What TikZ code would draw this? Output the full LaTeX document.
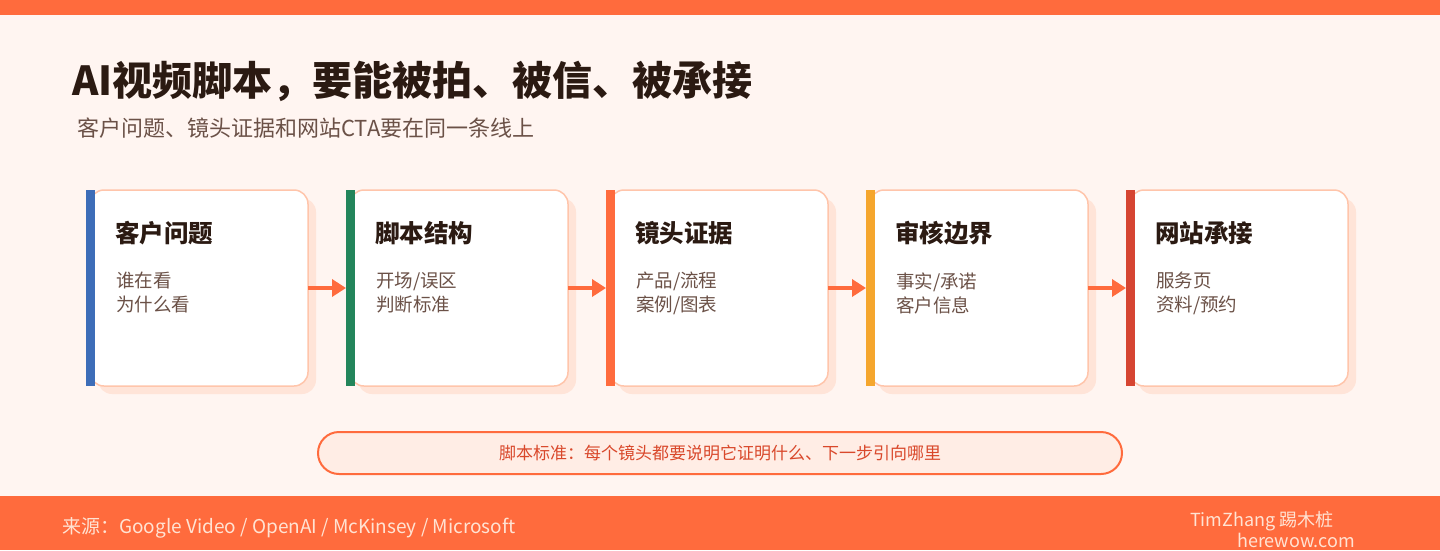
\documentclass[tikz,border=0pt]{standalone}
\usepackage{fontspec}
\setmainfont{Noto Sans CJK SC}
\usetikzlibrary{positioning, arrows.meta, shadows}

\definecolor{pagebg}{HTML}{FFF5F1}
\definecolor{brand}{HTML}{FF6B3D}
\definecolor{inkdark}{HTML}{2B1A12}
\definecolor{inksoft}{HTML}{6B5147}
\definecolor{cardline}{HTML}{FFC5AB}
\definecolor{cardshade}{HTML}{FFE4D8}
\definecolor{accblue}{HTML}{3D6DB8}
\definecolor{accgreen}{HTML}{23855B}
\definecolor{accorange}{HTML}{FF6B3D}
\definecolor{accyellow}{HTML}{F5A62D}
\definecolor{accred}{HTML}{D64532}
\definecolor{notefill}{HTML}{FFEDE5}
\definecolor{notetext}{HTML}{D9482B}
\definecolor{foottext}{HTML}{FFE3D3}

\begin{document}
\begin{tikzpicture}[
    x=1pt, y=-1pt,
    % Block styles
    card/.style={
      rectangle, rounded corners=14pt, draw=cardline, line width=1.5pt,
      fill=white, minimum width=218pt, minimum height=196pt,
      inner sep=0pt, outer sep=0pt,
      drop shadow={shadow xshift=8pt, shadow yshift=-8pt, fill=cardshade, opacity=1}
    },
    cardtitle/.style={
      anchor=west, inner sep=0pt, text=inkdark,
      font=\fontsize{24.5}{28}\selectfont\bfseries
    },
    cardbody/.style={
      inner sep=0pt, text=inksoft, align=left,
      font=\fontsize{18.5}{24}\selectfont
    },
    flow/.style={draw=brand, line width=4pt, -{Triangle[length=14pt, width=17pt]}},
    callout/.style={
      rectangle, rounded corners=21pt, draw=brand, line width=2pt,
      fill=notefill, minimum width=804pt, minimum height=42pt,
      text=notetext, font=\fontsize{17}{20}\selectfont
    },
    foot/.style={inner sep=0pt, text=foottext, font=\fontsize{18}{22}\selectfont},
  ]

  \useasboundingbox (0,0) rectangle (1440,550);

  % === Page frame ===
  \fill[pagebg] (0,0) rectangle (1440,550);
  \fill[brand] (0,0) rectangle (1440,15);
  \fill[brand] (0,496) rectangle (1440,550);

  % === Heading ===
  \node[anchor=west, inner sep=0pt, text=inkdark, font=\fontsize{40}{46}\selectfont\bfseries] (title) at (72,81) {AI视频脚本，要能被拍、被信、被承接};
  \node[anchor=west, inner sep=0pt, text=inksoft, font=\fontsize{22}{26}\selectfont] (subtitle) at (77,128) {客户问题、镜头证据和网站CTA要在同一条线上};

  % === Cards (anchor element) ===
  \node[card] (c1) at (199,288) {};
  \node[card, right=42pt of c1] (c2) {};
  \node[card, right=42pt of c2] (c3) {};
  \node[card, right=42pt of c3] (c4) {};
  \node[card, right=42pt of c4] (c5) {};

  % Accent bars
  \fill[accblue] ([xshift=-4pt]c1.north west) rectangle ([xshift=5pt]c1.south west);
  \fill[accgreen] ([xshift=-4pt]c2.north west) rectangle ([xshift=5pt]c2.south west);
  \fill[accorange] ([xshift=-4pt]c3.north west) rectangle ([xshift=5pt]c3.south west);
  \fill[accyellow] ([xshift=-4pt]c4.north west) rectangle ([xshift=5pt]c4.south west);
  \fill[accred] ([xshift=-4pt]c5.north west) rectangle ([xshift=5pt]c5.south west);

  % Card texts
  \node[cardtitle] (t1) at ([xshift=25pt, yshift=-43pt]c1.north west) {客户问题};
  \node[cardbody, below right=27pt and 1pt of t1.south west] (b1) {谁在看\\为什么看};

  \node[cardtitle] (t2) at ([xshift=25pt, yshift=-43pt]c2.north west) {脚本结构};
  \node[cardbody, below right=27pt and 1pt of t2.south west] (b2) {开场/误区\\判断标准};

  \node[cardtitle] (t3) at ([xshift=25pt, yshift=-43pt]c3.north west) {镜头证据};
  \node[cardbody, below right=27pt and 1pt of t3.south west] (b3) {产品/流程\\案例/图表};

  \node[cardtitle] (t4) at ([xshift=25pt, yshift=-43pt]c4.north west) {审核边界};
  \node[cardbody, below right=27pt and 1pt of t4.south west] (b4) {事实/承诺\\客户信息};

  \node[cardtitle] (t5) at ([xshift=25pt, yshift=-43pt]c5.north west) {网站承接};
  \node[cardbody, below right=27pt and 1pt of t5.south west] (b5) {服务页\\资料/预约};

  % Connectors
  \draw[flow] (c1.east) -- ([xshift=-4pt]c2.west);
  \draw[flow] (c2.east) -- ([xshift=-4pt]c3.west);
  \draw[flow] (c3.east) -- ([xshift=-4pt]c4.west);
  \draw[flow] (c4.east) -- ([xshift=-4pt]c5.west);

  % === Script rule ===
  \node[callout] (rule) at (720,453) {脚本标准：每个镜头都要说明它证明什么、下一步引向哪里};

  % === Footer ===
  \node[foot, anchor=west, font=\fontsize{19}{22}\selectfont] (source) at (62,528) {来源：Google Video / OpenAI / McKinsey / Microsoft};
  \node[foot, anchor=west] (author) at (1190,521) {TimZhang 踢木桩};
  \node[foot, anchor=east] (site) at (1355,540) {herewow.com};

\end{tikzpicture}
\end{document}
